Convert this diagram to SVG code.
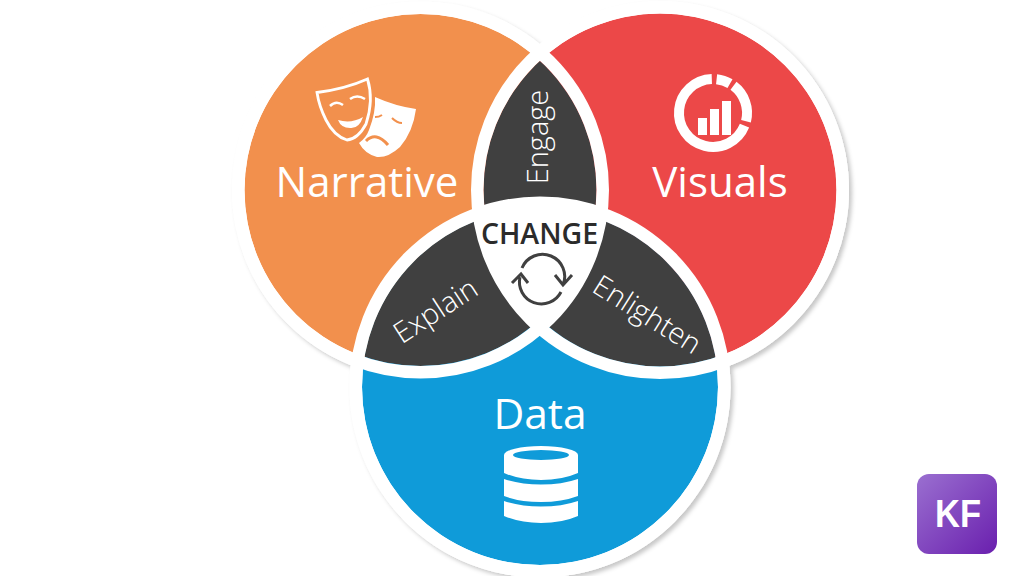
<svg xmlns="http://www.w3.org/2000/svg" width="1024" height="576" viewBox="0 0 1024 576">
<style>
.t{font-family:"Open Sans","Noto Sans",sans-serif;fill:#fff}
.l{font-weight:300}
.ring{fill:none;stroke:#fff;stroke-width:12.500}
.dark{fill:#404040}
.w{fill:#fff}
</style>
<defs>
<clipPath id="cO"><circle cx="420.500" cy="190" r="176"/></clipPath>
<clipPath id="cR"><circle cx="660" cy="190" r="176.500"/></clipPath>
<clipPath id="cOb"><circle cx="420.500" cy="190" r="178"/></clipPath>
<clipPath id="cRb"><circle cx="660" cy="190" r="178.500"/></clipPath>
<linearGradient id="kf" x1="0" y1="0" x2="1" y2="1"><stop offset="0" stop-color="#9a6fd0"/><stop offset="1" stop-color="#6a1fae"/></linearGradient>
<filter id="sh" x="-10%" y="-10%" width="120%" height="120%"><feDropShadow dx="3" dy="3" stdDeviation="2" flood-color="#000" flood-opacity="0.22"/></filter>
</defs>
<rect width="1024" height="576" fill="#fff"/>
<g id="shadow" filter="url(#sh)">
<circle class="w" cx="420.500" cy="190" r="188.500"/>
<circle class="w" cx="660" cy="190" r="189"/>
<circle class="w" cx="540" cy="387" r="190.500"/>
</g>
<g id="narrative"><circle cx="420.500" cy="190" r="176" fill="#f2904d"/></g>
<g id="visuals"><circle cx="660" cy="190" r="176.500" fill="#ec4848"/></g>
<g id="data"><circle cx="540" cy="387" r="178" fill="#0f9bd9"/></g>
<g id="lenses">
<g clip-path="url(#cO)"><circle class="dark" cx="660" cy="190" r="176.500"/></g>
<g clip-path="url(#cO)"><circle class="dark" cx="540" cy="387" r="178"/></g>
<g clip-path="url(#cR)"><circle class="dark" cx="540" cy="387" r="178"/></g>
</g>
<g id="rings">
<circle class="ring" cx="420.500" cy="190" r="182.250"/>
<circle class="ring" cx="660" cy="190" r="182.750"/>
<circle class="ring" cx="540" cy="387" r="184.250"/>
</g>
<g id="center"><g clip-path="url(#cOb)"><g clip-path="url(#cRb)"><circle class="w" cx="540" cy="387" r="180"/></g></g></g>
<g id="narrative-label">
<path d="M317 92.500 Q345 89 367.500 79 Q374 100 366 124 Q358 139 347 140 Q334 136 326 120 Q319 106 317 92.500Z" fill="none" stroke="#fff" stroke-width="2.800"/>
<path class="w" d="M375 97 Q395 106 416 109 Q413 132 400 147 Q388 158 377 157 Q365 154 359 143 Q366 138 369 130 Q376 112 375 97Z"/>
<path class="w" d="M338 120 Q351 124 363 117 Q359 129 350 128 Q341 128 338 120Z"/>
<path d="M330 106 Q336 100 343 105 M350 99 Q357 94 365 99" fill="none" stroke="#fff" stroke-width="2.500"/>
<path d="M375 117 Q379 117 382 115 M392 118 Q397 123 402 123" fill="none" stroke="#f2904d" stroke-width="2"/>
<path d="M366 141 Q376 131 388 145" fill="none" stroke="#f2904d" stroke-width="3"/>
<text class="t" x="367" y="197" font-size="42" text-anchor="middle">Narrative</text>
</g>
<g id="visuals-label">
<g fill="none" stroke="#fff" stroke-width="10">
<path d="M711.800 79 A34 34 0 1 0 744.500 125.700"/>
<path d="M716.600 79.200 A34 34 0 0 1 730 83.600"/>
<path d="M733.500 85.800 A34 34 0 0 1 746 121.200"/>
</g>
<rect class="w" x="698" y="118" width="9" height="17"/>
<rect class="w" x="710" y="109" width="9" height="26"/>
<rect class="w" x="722" y="101" width="9" height="34"/>
<text class="t" x="720" y="197" font-size="42" text-anchor="middle">Visuals</text>
</g>
<g id="data-label">
<text class="t" x="540" y="429" font-size="42.500" text-anchor="middle">Data</text>
<path class="w" d="M504 455 A37 9 0 0 1 578 455 V473 Q562 480 541 480 Q520 480 504 473Z"/>
<ellipse cx="541" cy="455" rx="28" ry="5" fill="#0f9bd9"/>
<path class="w" d="M504 479 Q520 484.500 541 484.500 Q562 484.500 578 479 V496 Q562 502 541 502 Q520 502 504 496Z"/>
<path class="w" d="M504 501 Q520 506.500 541 506.500 Q562 506.500 578 501 V516 Q562 523 541 523 Q520 523 504 516Z"/>
</g>
<g id="engage-label"><text class="t l" transform="translate(548 137) rotate(-90)" font-size="29" text-anchor="middle">Engage</text></g>
<g id="explain-label"><text class="t l" transform="translate(441 319) rotate(-33)" font-size="29" text-anchor="middle">Explain</text></g>
<g id="enlighten-label"><text class="t l" transform="translate(642 323) rotate(32)" font-size="29" text-anchor="middle">Enlighten</text></g>
<g id="change-label">
<text x="539.500" y="244" font-family="Open Sans, Noto Sans, sans-serif" font-weight="600" font-size="28.500" fill="#2b2b2b" text-anchor="middle">CHANGE</text>
<g fill="none" stroke="#404040" stroke-width="3">
<path d="M522 268 A22 22 0 0 1 563 285 M555 275 L563 285 L572 275"/>
<path d="M561 292 A22 22 0 0 1 520 277 M512 283 L521 274 L528 283"/>
</g>
</g>
<g id="kf-badge">
<rect x="917" y="474" width="80" height="80" rx="12" fill="url(#kf)"/>
<text x="958" y="527" font-family="Liberation Sans, Arial, sans-serif" font-weight="700" font-size="38" fill="#fff" text-anchor="middle" textLength="46" lengthAdjust="spacingAndGlyphs">KF</text>
</g>
</svg>
